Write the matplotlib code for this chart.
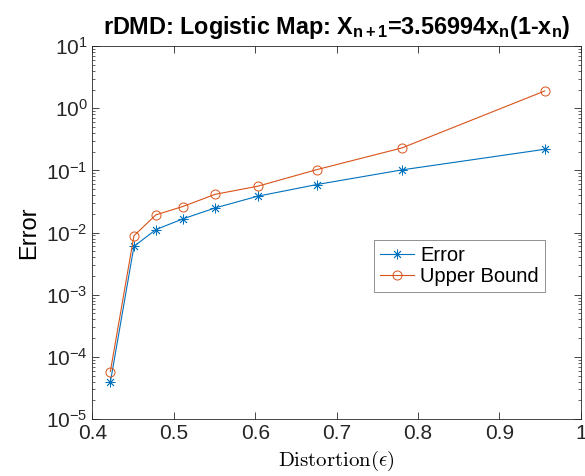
import matplotlib
matplotlib.use("Agg")
import matplotlib.pyplot as plt
from matplotlib.ticker import LogLocator, NullFormatter

# values
distortion = [0.422, 0.451, 0.478, 0.511, 0.551, 0.603, 0.6755, 0.780, 0.9555]
error = [3.9e-5, 6.0e-3, 0.0112, 0.0166, 0.025, 0.0385, 0.0593, 0.102, 0.219]
upper_bound = [5.8e-5, 8.9e-3, 0.0193, 0.0263, 0.0414, 0.0557, 0.103, 0.230, 1.90]

plt.rcParams["font.family"] = ["Liberation Sans", "DejaVu Sans"]
plt.rcParams["mathtext.fontset"] = "custom"
plt.rcParams["mathtext.rm"] = "Liberation Sans"
plt.rcParams["mathtext.bf"] = "Liberation Sans:bold"
plt.rcParams["mathtext.it"] = "Liberation Sans:italic"

fig = plt.figure(figsize=(5.85, 4.76), dpi=100)
ax = fig.add_axes([0.158, 0.1197, 0.835, 0.7833])

# MATLAB style '*' marker: 8-armed asterisk
ax.plot(distortion, error, color="#0072BD", marker=(8, 2, 0), markersize=7,
        markeredgewidth=0.6, linewidth=0.8, label="Error")
ax.plot(distortion, upper_bound, color="#D95319", marker="o", markersize=6.5,
        markeredgewidth=0.7, markerfacecolor="none", linewidth=0.8,
        label="Upper Bound")

ax.set_yscale("log")
ax.set_xlim(0.4, 1)
ax.set_ylim(1e-5, 1e1)
ax.set_xticks([0.4, 0.5, 0.6, 0.7, 0.8, 0.9, 1])
ax.set_xticklabels(["0.4", "0.5", "0.6", "0.7", "0.8", "0.9", "1"])
ax.yaxis.set_major_locator(LogLocator(base=10, numticks=10))
ax.yaxis.set_minor_locator(LogLocator(base=10, subs=range(2, 10), numticks=100))
ax.yaxis.set_minor_formatter(NullFormatter())

ax.tick_params(which="both", direction="in", top=True, right=True,
               colors="#262626", labelsize=15)
ax.tick_params(which="major", length=5, width=0.6)
ax.tick_params(which="minor", length=2.5, width=0.5)
for s in ax.spines.values():
    s.set_color("#262626")
    s.set_linewidth(0.6)

ax.set_title(r"rDMD: Logistic Map: X$_{\mathbf{n+1}}$=3.56994x$_{\mathbf{n}}$(1-x$_{\mathbf{n}}$)",
             fontsize=16.8, fontweight="bold", pad=9)
ax.set_xlabel(r"$\mathrm{Distortion}(\epsilon)$", fontsize=15, math_fontfamily="cm",
              labelpad=4)
ax.set_ylabel("Error", fontsize=17, labelpad=4)

leg = ax.legend(loc="upper left", bbox_to_anchor=(0.576, 0.48), borderaxespad=0,
                fontsize=14.5, handlelength=1.7, handletextpad=0.3, borderpad=0.3,
                labelspacing=0.1, fancybox=False, framealpha=1,
                edgecolor="#7f7f7f")
leg.get_frame().set_linewidth(0.6)

fig.savefig("out.png", dpi=100)
